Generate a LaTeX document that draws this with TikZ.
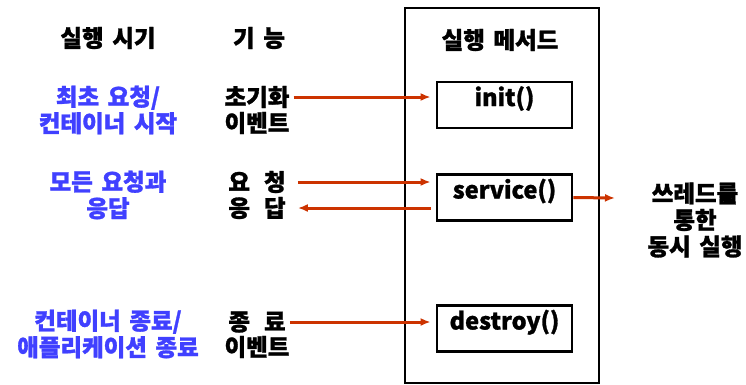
\documentclass[tikz,border=0pt]{standalone}
\usepackage{fontspec}
\setmainfont{Noto Sans CJK KR}[FakeBold=1.2, WordSpace=1.6]
\usetikzlibrary{positioning}
\usetikzlibrary{arrows.meta}
\usepackage{xcolor}
\definecolor{whenblue}{RGB}{64,64,255}
\definecolor{callred}{RGB}{204,51,0}

\begin{document}
\begin{tikzpicture}[x=1pt, y=-1pt,
    every node/.style={font=\fontsize{23.5}{26.5}\selectfont\bfseries, inner sep=0pt},
    whentxt/.style={text=whenblue, align=center},
    functxt/.style={align=center},
    methodbox/.style={draw, line width=2.8pt, rectangle, minimum width=135pt, minimum height=46pt, inner sep=2pt, text height=22pt, text depth=20pt},
    arr/.style={-{Latex[length=10pt,width=8pt]}, line width=3pt, callred}]
            \useasboundingbox (0,0) rectangle (746,384);
            % Outer container and its methods
            \node[draw, line width=2.8pt, rectangle, minimum width=194pt, minimum height=375pt] (container) at (502,195.5) {};
            \node (title) at (500,40) {실행 메서드};
            \node[methodbox] (init) at (504.5,105) {init()};
            \node[methodbox] (service) at (504.5,197.5) {service()};
            \node[methodbox] (destroy) at (504.5,328.5) {destroy()};
            
            % Column headers
            \node (whenhdr) at (108,38) {실행 시기};
            \node (funchdr) at (259,38) {기 능};
            
            % When each method runs
            \node[whentxt] (when1) at (108,110) {최초 요청/\\컨테이너 시작};
            \node[whentxt] (when2) at (108,195) {모든 요청과\\응답};
            \node[whentxt] (when3) at (108,334) {컨테이너 종료/\\애플리케이션 종료};
            
            % What each event does
            \node[functxt] (initev) at (257,97) {초기화};
            \node[functxt] (initev2) at (257,123) {이벤트};
            \node[functxt] (req) at (257,182) {요\hspace{0.6em}청};
            \node[functxt] (resp) at (257,208) {응\hspace{0.6em}답};
            \node[functxt] (endev) at (257,322) {종\hspace{0.6em}료};
            \node[functxt] (endev2) at (257,347) {이벤트};
            
            \node[functxt] (thread) at (695,220) {쓰레드를\\통한\\동시 실행};
            \coordinate (threadin) at (615,198);
            
            \draw[arr, shorten <=4pt] (initev.east) -- ([xshift=-5pt]init.west |- initev.east);
            \draw[arr, shorten <=12pt] (req.east) -- ([xshift=-5pt]service.west |- req.east);
            \draw[arr, shorten >=12pt] ([xshift=-5pt]service.west |- resp.east) -- (resp.east);
            \draw[arr, shorten <=4pt] (endev.east) -- ([xshift=-5pt]destroy.west |- endev.east);
            \draw[arr] (service.east) -- (threadin);
        \end{tikzpicture}
\end{document}
